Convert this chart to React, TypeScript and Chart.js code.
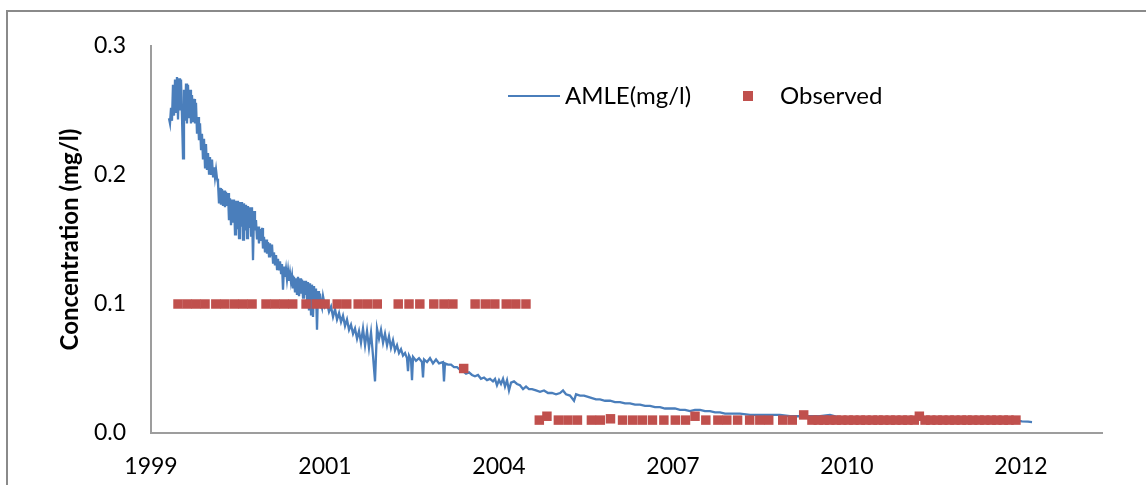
import { useEffect, useRef } from 'react';
import { Chart, registerables } from 'chart.js';

Chart.register(...registerables);

// ---- data -------------------------------------------------------------

// AMLE load-model concentration estimate (decimal year, mg/l)
const amleYears = [
  1999.393, 1999.409, 1999.425, 1999.440, 1999.456, 1999.472, 1999.488, 1999.503, 1999.519, 1999.535,
  1999.551, 1999.566, 1999.582, 1999.598, 1999.614, 1999.629, 1999.645, 1999.661, 1999.676, 1999.692,
  1999.708, 1999.724, 1999.739, 1999.755, 1999.771, 1999.787, 1999.802, 1999.818, 1999.834, 1999.850,
  1999.865, 1999.881, 1999.897, 1999.912, 1999.928, 1999.944, 1999.960, 1999.975, 1999.991, 2000.007,
  2000.023, 2000.038, 2000.054, 2000.070, 2000.086, 2000.101, 2000.117, 2000.133, 2000.149, 2000.164,
  2000.180, 2000.196, 2000.211, 2000.227, 2000.243, 2000.259, 2000.274, 2000.290, 2000.306, 2000.322,
  2000.337, 2000.353, 2000.369, 2000.385, 2000.400, 2000.416, 2000.432, 2000.447, 2000.463, 2000.479,
  2000.495, 2000.510, 2000.526, 2000.542, 2000.558, 2000.573, 2000.589, 2000.605, 2000.621, 2000.636,
  2000.652, 2000.668, 2000.684, 2000.699, 2000.715, 2000.731, 2000.746, 2000.762, 2000.778, 2000.794,
  2000.809, 2000.825, 2000.841, 2000.857, 2000.872, 2000.888, 2000.904, 2000.920, 2000.935, 2000.951,
  2000.967, 2000.982, 2000.998, 2001.014, 2001.030, 2001.045, 2001.061, 2001.077, 2001.093, 2001.108,
  2001.124, 2001.140, 2001.156, 2001.171, 2001.187, 2001.203, 2001.218, 2001.234, 2001.250, 2001.266,
  2001.281, 2001.297, 2001.313, 2001.329, 2001.344, 2001.360, 2001.376, 2001.392, 2001.407, 2001.423,
  2001.439, 2001.455, 2001.470, 2001.486, 2001.502, 2001.517, 2001.533, 2001.549, 2001.565, 2001.580,
  2001.596, 2001.612, 2001.628, 2001.643, 2001.659, 2001.675, 2001.691, 2001.706, 2001.722, 2001.738,
  2001.753, 2001.769, 2001.785, 2001.801,
  2001.817, 2001.848, 2001.880, 2001.911, 2001.943, 2001.974, 2002.006, 2002.037, 2002.069, 2002.100,
  2002.131, 2002.163, 2002.194, 2002.226, 2002.257, 2002.289, 2002.320, 2002.352, 2002.383, 2002.414,
  2002.446, 2002.478, 2002.509, 2002.540, 2002.572, 2002.603, 2002.635, 2002.666, 2002.698, 2002.729,
  2002.761, 2002.792, 2002.824, 2002.855, 2002.886, 2002.918, 2002.949, 2002.981, 2003.012, 2003.044,
  2003.075, 2003.107, 2003.138, 2003.154, 2003.170, 2003.201, 2003.217, 2003.233, 2003.280, 2003.327,
  2003.374, 2003.390, 2003.406, 2003.453, 2003.500, 2003.547, 2003.595, 2003.642, 2003.705, 2003.720,
  2003.736, 2003.783, 2003.831, 2003.878, 2003.925, 2003.972, 2004.019, 2004.067, 2004.114, 2004.161,
  2004.208, 2004.255, 2004.302, 2004.350, 2004.397, 2004.444, 2004.491, 2004.523, 2004.554, 2004.586,
  2004.617, 2004.649, 2004.680, 2004.712, 2004.743, 2004.775, 2004.822, 2004.869, 2004.916, 2004.964,
  2005.011, 2005.058, 2005.105, 2005.168, 2005.231, 2005.294, 2005.357, 2005.420, 2005.483, 2005.546,
  2005.593, 2005.640, 2005.703, 2005.766, 2005.798, 2005.861, 2005.924, 2005.987, 2006.050, 2006.112,
  2006.175, 2006.254, 2006.333, 2006.411, 2006.490, 2006.569, 2006.647, 2006.726, 2006.805, 2006.883,
  2006.962, 2007.040, 2007.119, 2007.198, 2007.277, 2007.355, 2007.434, 2007.513, 2007.591, 2007.670,
  2007.749, 2007.827, 2007.906, 2007.985, 2008.063, 2008.142, 2008.221, 2008.378, 2008.535, 2008.693,
  2008.850, 2009.007, 2009.165, 2009.322, 2009.479, 2009.637, 2009.794, 2009.951, 2010.266, 2010.581,
  2010.896, 2011.210, 2011.525, 2011.840, 2012.154, 2012.469, 2012.705, 2012.815, 2012.910, 2012.973,
];

const amleValues = [
  0.244, 0.240, 0.252, 0.242, 0.270, 0.246, 0.274, 0.248, 0.276, 0.243,
  0.275, 0.250, 0.274, 0.245, 0.213, 0.266, 0.242, 0.271, 0.240, 0.270,
  0.244, 0.266, 0.240, 0.262, 0.241, 0.259, 0.240, 0.256, 0.232, 0.245,
  0.227, 0.240, 0.220, 0.232, 0.212, 0.228, 0.206, 0.224, 0.204, 0.217,
  0.201, 0.214, 0.200, 0.212, 0.199, 0.206, 0.198, 0.204, 0.197, 0.194,
  0.178, 0.190, 0.177, 0.189, 0.176, 0.188, 0.175, 0.187, 0.176, 0.186,
  0.165, 0.182, 0.161, 0.181, 0.163, 0.181, 0.154, 0.180, 0.158, 0.180,
  0.151, 0.179, 0.160, 0.179, 0.150, 0.178, 0.157, 0.177, 0.151, 0.176,
  0.159, 0.175, 0.153, 0.175, 0.134, 0.172, 0.157, 0.165, 0.150, 0.160,
  0.147, 0.158, 0.149, 0.159, 0.143, 0.152, 0.140, 0.150, 0.139, 0.148,
  0.137, 0.147, 0.137, 0.146, 0.132, 0.140, 0.130, 0.138, 0.127, 0.135,
  0.126, 0.133, 0.124, 0.131, 0.111, 0.129, 0.121, 0.127, 0.119, 0.126,
  0.118, 0.124, 0.117, 0.122, 0.112, 0.121, 0.109, 0.120, 0.107, 0.121,
  0.106, 0.120, 0.108, 0.119, 0.105, 0.118, 0.107, 0.118, 0.104, 0.117,
  0.095, 0.116, 0.092, 0.115, 0.090, 0.114, 0.099, 0.112, 0.080, 0.110,
  0.100, 0.108, 0.100, 0.097,
  0.106, 0.098, 0.101, 0.094, 0.098, 0.090, 0.096, 0.088, 0.093, 0.086,
  0.091, 0.083, 0.088, 0.080, 0.084, 0.077, 0.081, 0.073, 0.079, 0.070,
  0.081, 0.068, 0.079, 0.066, 0.078, 0.060, 0.040, 0.081, 0.073, 0.080,
  0.070, 0.077, 0.068, 0.075, 0.066, 0.072, 0.064, 0.068, 0.062, 0.065,
  0.060, 0.062, 0.058, 0.048, 0.060, 0.057, 0.041, 0.059, 0.056, 0.058,
  0.055, 0.043, 0.057, 0.055, 0.058, 0.054, 0.057, 0.054, 0.055, 0.040,
  0.054, 0.053, 0.053, 0.051, 0.051, 0.049, 0.048, 0.046, 0.047, 0.045,
  0.044, 0.045, 0.042, 0.043, 0.041, 0.042, 0.040, 0.042, 0.037, 0.041,
  0.038, 0.042, 0.036, 0.041, 0.033, 0.039, 0.040, 0.038, 0.037, 0.034,
  0.036, 0.034, 0.034, 0.033, 0.032, 0.033, 0.031, 0.031, 0.030, 0.031,
  0.033, 0.030, 0.029, 0.025, 0.030, 0.029, 0.029, 0.028, 0.027, 0.026,
  0.026, 0.025, 0.025, 0.024, 0.024, 0.023, 0.023, 0.022, 0.022, 0.021,
  0.021, 0.020, 0.020, 0.019, 0.019, 0.019, 0.018, 0.018, 0.017, 0.018,
  0.018, 0.017, 0.017, 0.016, 0.016, 0.015, 0.015, 0.015, 0.014, 0.014,
  0.014, 0.014, 0.013, 0.013, 0.013, 0.013, 0.014, 0.012, 0.012, 0.012,
  0.011, 0.011, 0.011, 0.011, 0.010, 0.010, 0.010, 0.009, 0.0088, 0.0085,
];

// Observed sample concentrations (decimal year, mg/l)
const obsYears = [
  1999.535, 1999.68, 1999.82, 1999.96, 2000.13, 2000.27, 2000.42, 2000.56, 2000.70, 2000.92,
  2001.06, 2001.20, 2001.34, 2001.55, 2001.71, 2001.85, 2002.04, 2002.19, 2002.37, 2002.52,
  2002.67, 2003.00, 2003.17, 2003.34, 2003.56, 2003.72, 2003.86, 2004.03, 2004.21, 2004.37,
  2004.52, 2004.70, 2004.85, 2005.01,
  2005.22, 2005.34, 2005.52, 2005.67, 2005.82, 2006.04, 2006.18, 2006.34, 2006.53, 2006.69,
  2006.84, 2007.00, 2007.18, 2007.36, 2007.52, 2007.67, 2007.84, 2008.03, 2008.17, 2008.34,
  2008.53, 2008.69, 2008.83, 2009.05, 2009.20, 2009.38, 2009.51, 2009.61, 2009.70, 2009.79,
  2009.89, 2009.98, 2010.08, 2010.17, 2010.27, 2010.36, 2010.46, 2010.55, 2010.64, 2010.74,
  2010.83, 2010.93, 2011.02, 2011.12, 2011.20, 2011.29, 2011.38, 2011.48, 2011.57, 2011.67,
  2011.76, 2011.86, 2011.95, 2012.04, 2012.14, 2012.23, 2012.33, 2012.42, 2012.52, 2012.61,
  2012.72,
];

const obsValues = [
  0.1, 0.1, 0.1, 0.1, 0.1, 0.1, 0.1, 0.1, 0.1, 0.1,
  0.1, 0.1, 0.1, 0.1, 0.1, 0.1, 0.1, 0.1, 0.1, 0.1,
  0.1, 0.1, 0.1, 0.1, 0.1, 0.1, 0.1, 0.05, 0.1, 0.1,
  0.1, 0.1, 0.1, 0.1,
  0.01, 0.013, 0.01, 0.01, 0.01, 0.01, 0.01, 0.011, 0.01, 0.01,
  0.01, 0.01, 0.01, 0.01, 0.01, 0.013, 0.01, 0.01, 0.01, 0.01,
  0.01, 0.01, 0.01, 0.01, 0.01, 0.014, 0.01, 0.01, 0.01, 0.01,
  0.01, 0.01, 0.01, 0.01, 0.01, 0.01, 0.01, 0.01, 0.01, 0.01,
  0.01, 0.01, 0.01, 0.01, 0.013, 0.01, 0.01, 0.01, 0.01, 0.01,
  0.01, 0.01, 0.01, 0.01, 0.01, 0.01, 0.01, 0.01, 0.01, 0.01,
  0.01,
];

// Date axis: major unit of 1000 days starting at 9 Feb 1999
const xTickValues = [1999.11, 2001.848, 2004.586, 2007.324, 2010.062, 2012.8];
const xTickLabels = ['1999', '2001', '2004', '2007', '2010', '2012'];
const xMin = 1999.11;
const xMax = 2014.074;

const yTickValues = [0, 0.1, 0.2, 0.3];
const yTickLabels = ['0.0', '0.1', '0.2', '0.3'];

const seriesNames = ['AMLE(mg/l)', 'Observed'];

// ---- styling ------------------------------------------------------------

const FONT = 'Lato, "Open Sans", sans-serif';
const BLUE = '#4A7EBB';
const RED = '#C0504D';
const AXIS_GREY = '#9d9d9d';

// Outer chart-area frame
const framePlugin = {
  id: 'outerFrame',
  beforeDraw(chart: any) {
    const ctx = chart.ctx;
    ctx.save();
    ctx.strokeStyle = '#8a8a8a';
    ctx.lineWidth = 2;
    ctx.strokeRect(7, 11, 1400, 800);
    ctx.restore();
  },
};

// In-plot legend: line sample + square marker
const legendPlugin = {
  id: 'inPlotLegend',
  afterDraw(chart: any) {
    const ctx = chart.ctx;
    const y = 96;
    ctx.save();
    ctx.strokeStyle = BLUE;
    ctx.lineWidth = 2;
    ctx.beginPath();
    ctx.moveTo(508, y);
    ctx.lineTo(560, y);
    ctx.stroke();
    ctx.fillStyle = RED;
    ctx.fillRect(743, y - 5, 10, 10);
    ctx.fillStyle = '#000';
    ctx.font = `24px ${FONT}`;
    ctx.textBaseline = 'middle';
    ctx.textAlign = 'left';
    ctx.fillText(seriesNames[0], 565, y);
    ctx.fillText(seriesNames[1], 780, y);
    ctx.restore();
  },
};

export default function App() {
  const canvasRef = useRef<HTMLCanvasElement | null>(null);

  useEffect(() => {
    if (!canvasRef.current) return;
    const amle = amleYears.map((x, i) => ({ x, y: amleValues[i] }));
    const obs = obsYears.map((x, i) => ({ x, y: obsValues[i] }));

    const chart = new Chart(canvasRef.current, {
      type: 'line',
      data: {
        datasets: [
          {
            label: seriesNames[0],
            data: amle,
            borderColor: BLUE,
            borderWidth: 2.3,
            pointRadius: 0,
            tension: 0,
            fill: false,
            order: 2,
          },
          {
            label: seriesNames[1],
            data: obs,
            showLine: false,
            pointStyle: 'rect',
            pointRadius: 6.7,
            pointBackgroundColor: RED,
            pointBorderWidth: 0,
            borderColor: RED,
            order: 1,
          },
        ],
      },
      options: {
        animation: false,
        responsive: false,
        devicePixelRatio: 1,
        parsing: false,
        normalized: true,
        layout: { padding: { top: 46, right: 44, left: 0, bottom: 0 } },
        plugins: {
          legend: { display: false },
          tooltip: { enabled: false },
        },
        scales: {
          x: {
            type: 'linear',
            min: xMin,
            max: xMax,
            afterBuildTicks: (scale: any) => {
              scale.ticks = xTickValues.map((value) => ({ value }));
            },
            afterFit: (scale: any) => {
              scale.height = 52;
            },
            ticks: {
              autoSkip: false,
              maxRotation: 0,
              padding: 20,
              color: '#000',
              font: { family: FONT, size: 23 },
              callback: (_v: any, i: number) => xTickLabels[i],
            },
            grid: { display: false, drawTicks: false },
            border: { display: true, color: AXIS_GREY, width: 2 },
          },
          y: {
            type: 'linear',
            min: 0,
            max: 0.3,
            afterBuildTicks: (scale: any) => {
              scale.ticks = yTickValues.map((value) => ({ value }));
            },
            afterFit: (scale: any) => {
              scale.width = 151;
            },
            ticks: {
              padding: 25,
              color: '#000',
              font: { family: FONT, size: 23 },
              callback: (_v: any, i: number) => yTickLabels[i],
            },
            grid: { display: false, drawTicks: false },
            border: { display: true, color: AXIS_GREY, width: 2 },
            title: {
              display: true,
              text: 'Concentration (mg/l)',
              color: '#000',
              font: { family: FONT, size: 24, weight: 'bold' },
              padding: { top: 56, bottom: 0 },
            },
          },
        },
      },
      plugins: [framePlugin, legendPlugin],
    } as any);

    return () => chart.destroy();
  }, []);

  return (
    <div style={{ position: 'fixed', left: 0, top: 0, width: 1146, height: 485, background: '#fff' }}>
      <canvas ref={canvasRef} width={1146} height={485} style={{ width: 1146, height: 485, display: 'block' }} />
    </div>
  );
}
